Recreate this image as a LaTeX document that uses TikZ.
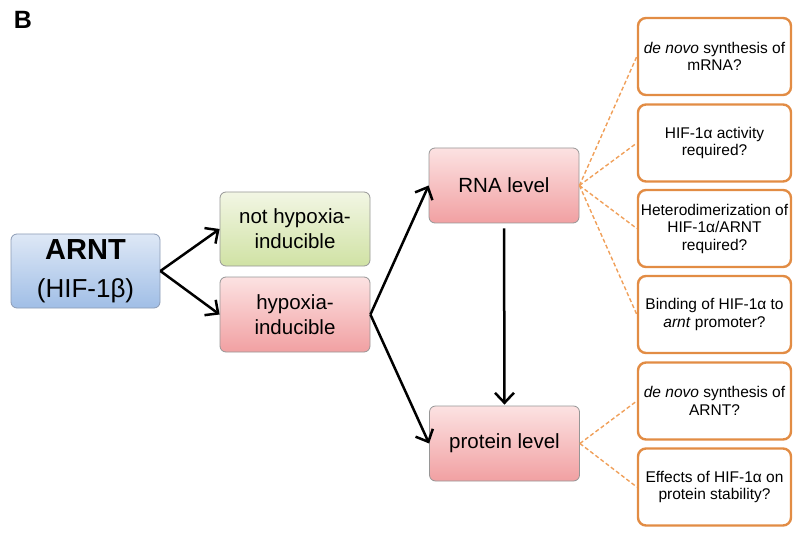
\documentclass[tikz,border=0pt]{standalone}
\usepackage{fontspec}
\setmainfont{Liberation Sans}
\usetikzlibrary{arrows.meta}
\definecolor{arntTop}{RGB}{222,232,246}
\definecolor{arntBot}{RGB}{160,190,230}
\definecolor{arntLine}{RGB}{140,155,180}
\definecolor{grnTop}{RGB}{242,246,228}
\definecolor{grnBot}{RGB}{208,226,164}
\definecolor{pinkTop}{RGB}{252,226,226}
\definecolor{pinkBot}{RGB}{241,160,162}
\definecolor{grayLine}{RGB}{150,150,150}
\definecolor{orangeLine}{RGB}{226,140,68}
\definecolor{orangeDash}{RGB}{240,160,90}
\tikzset{
  x=1pt, y=1pt,
  gbox/.style={rectangle, rounded corners=6pt, draw=grayLine, line width=0.8pt,
    inner sep=0pt, align=center, font=\fontsize{20.5}{25}\selectfont},
  arntbox/.style={gbox, top color=arntTop, bottom color=arntBot, draw=arntLine,
    minimum width=149pt, minimum height=74pt, font=\fontsize{26}{38}\selectfont},
  grnbox/.style={gbox, top color=grnTop, bottom color=grnBot,
    minimum width=150pt, minimum height=74pt},
  pinkbox/.style={gbox, top color=pinkTop, bottom color=pinkBot,
    minimum width=150pt, minimum height=75pt},
  qbox/.style={rectangle, rounded corners=8pt, draw=orangeLine, line width=2.4pt,
    fill=white, inner sep=0pt, align=center, minimum width=153pt, minimum height=77pt,
    font=\fontsize{15.5}{17.5}\selectfont},
  arr/.style={line width=2.5pt, -{Straight Barb[length=10pt,width=19pt,line width=2.5pt]}},
  dashlink/.style={draw=orangeDash, line width=1.4pt, dash pattern=on 4pt off 2.5pt}
}
\begin{document}
\begin{tikzpicture}
\useasboundingbox (0,0) rectangle (799,-534);
\node[font=\fontsize{25}{25}\selectfont\bfseries] (lblB) at (23,-20) {B};
\node[arntbox] (arnt) at (85.5,-271)
  {{\fontsize{29}{38}\selectfont\bfseries ARNT}\\(HIF-1β)};
\node[grnbox] (nothyp) at (295,-229) {not hypoxia-\\inducible};
\node[pinkbox] (hyp) at (295,-314.5) {hypoxia-\\inducible};
\node[pinkbox] (rna) at (504,-185.5) {RNA level};
\node[pinkbox] (prot) at (504.5,-443.5) {protein level};
\node[qbox] (q1) at (714.5,-56.5) {\textit{de novo} synthesis of\\mRNA?};
\node[qbox] (q2) at (714.5,-143) {HIF-1α activity\\required?};
\node[qbox] (q3) at (714.5,-228.5) {Heterodimerization of\\HIF-1α/ARNT\\required?};
\node[qbox] (q4) at (714.5,-314.5) {Binding of HIF-1α to\\\textit{arnt} promoter?};
\node[qbox] (q5) at (714.5,-401) {\textit{de novo} synthesis of\\ARNT?};
\node[qbox] (q6) at (714.5,-487) {Effects of HIF-1α on\\protein stability?};
\draw[arr] (arnt.east) -- (nothyp.west);
\draw[arr] (arnt.east) -- (hyp.west);
\draw[arr] (hyp.east) -- (rna.west);
\draw[arr] (hyp.east) -- (prot.west);
\draw[arr, shorten <=5pt, shorten >=1pt] (rna.south) -- (prot.north);
\foreach \q in {q1,q2,q3,q4} \draw[dashlink] (rna.east) -- (\q.west);
\foreach \q in {q5,q6} \draw[dashlink] (prot.east) -- (\q.west);
\end{tikzpicture}
\end{document}
